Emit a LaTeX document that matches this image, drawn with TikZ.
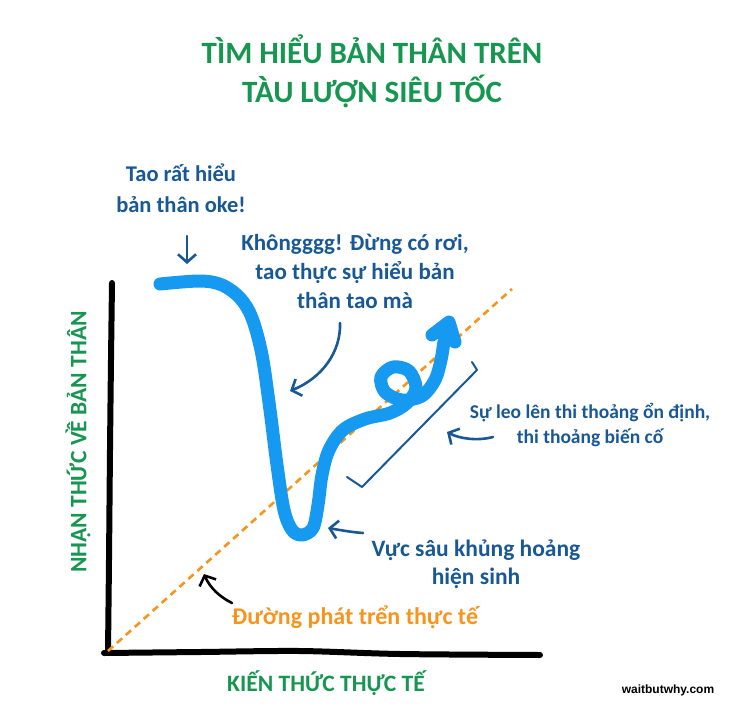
\documentclass[tikz,border=0pt]{standalone}
\usepackage{fontspec}
\setmainfont{Carlito}
\newfontfamily\wbwfont{Liberation Sans}
\usetikzlibrary{arrows.meta}
\definecolor{ttlgreen}{RGB}{22,150,80}
\definecolor{annblue}{RGB}{24,88,150}
\definecolor{curveblue}{RGB}{22,153,240}
\definecolor{devorange}{RGB}{247,148,29}
\begin{document}
\begin{tikzpicture}[x=1pt,y=-1pt,
  ann/.style={text=annblue, align=center, inner sep=0pt},
  greenlbl/.style={font=\bfseries\fontsize{23.5}{26}\selectfont, text=ttlgreen, inner sep=0pt},
  annarrow/.style={draw=annblue, line width=2.6pt, line cap=round, -{Straight Barb[length=8pt,width=18pt]}},
  blackarrow/.style={draw=black, line width=2.6pt, line cap=round, -{Straight Barb[length=8pt,width=18pt]}},
  axisline/.style={draw=black, line width=6pt, line cap=round, line join=round},
  roller/.style={draw=curveblue, line width=13pt, line cap=round, line join=round},
  devline/.style={draw=devorange, line width=2.6pt, dash pattern=on 7pt off 5pt}
]
\useasboundingbox[fill=white] (0,0) rectangle (752,720);

% title
\node[font=\bfseries\fontsize{31}{39}\selectfont, text=ttlgreen, align=center, inner sep=0pt] (title) at (372,71) {TÌM HIỂU BẢN THÂN TRÊN\\TÀU LƯỢN SIÊU TỐC};

% axes
\draw[axisline] plot[smooth, tension=0.5] coordinates {(112,283) (111,360) (110,450) (109,560) (108,652)};
\draw[axisline] plot[smooth, tension=0.5] coordinates {(104,653) (200,652) (300,651) (400,654) (540,655)};
\node[greenlbl] (xlabel) at (326,683) {KIẾN THỨC THỰC TẾ};
\node[greenlbl, rotate=90] (ylabel) at (78,442) {NHẬN THỨC VỀ BẢN THÂN};

% actual development line
\coordinate (o0) at (108,651);
\coordinate (o1) at (512,289);
\draw[devline] (o0) -- (o1);

% roller coaster curve
\draw[roller] plot[smooth, tension=0.55] coordinates {(160,284) (200,281) (222,285) (240,298) (252,318) (262,355) (270,410) (277,465) (284,510) (292,530) (302,535) (313,528) (318,505) (322,475) (329,450) (343,430) (365,419) (390,413) (407,403) (416,388) (409,371) (393,367) (381,377) (385,392) (402,400) (422,396) (435,380) (441,360) (444,342) (447,330)};
\draw[roller] (432,335) -- (449,322) -- (455,342);

% annotations
\node[ann, font=\bfseries\fontsize{22.5}{31}\selectfont] (tao) at (181,188) {Tao rất hiểu\\bản thân oke!};
\coordinate (taoA) at (187,236);
\coordinate (taoB) at (187,264);
\draw[annarrow] (taoA) -- (taoB);

\node[ann, font=\bfseries\fontsize{23}{29}\selectfont] (khong) at (355,271) {Khôngggg! Đừng có rơi,\\tao thực sự hiểu bản\\thân tao mà};
\coordinate (kA) at (340,323);
\coordinate (kB) at (290,391);
\draw[annarrow] (kA) .. controls (341,352) and (322,378) .. (kB);

\node[ann, font=\bfseries\fontsize{19.5}{25}\selectfont] (suleo) at (590,425) {Sự leo lên thi thoảng ổn định,\\thi thoảng biến cố};
\coordinate (sA) at (493,437);
\coordinate (sB) at (447,432);
\draw[annarrow] (sA) .. controls (478,441) and (460,439) .. (sB);
\coordinate (b1) at (472,362);
\coordinate (b2) at (477,370);
\coordinate (b3) at (362,487);
\coordinate (b4) at (347,477);
\draw[annblue, line width=2pt, line cap=round, line join=round] (b1) -- (b2) -- (b3) -- (b4);

\node[ann, font=\bfseries\fontsize{23.5}{28}\selectfont] (vuc) at (476,564) {Vực sâu khủng hoảng\\hiện sinh};
\coordinate (vA) at (363,533);
\coordinate (vB) at (328,528);
\draw[annarrow] (vA) .. controls (350,532) and (340,530) .. (vB);

\node[font=\bfseries\fontsize{24}{26}\selectfont, text=devorange, inner sep=0pt] (duong) at (355,617) {Đường phát trển thực tế};
\coordinate (dA) at (232,603);
\coordinate (dB) at (204,574);
\draw[blackarrow] (dA) .. controls (220,597) and (210,588) .. (dB);

\node[font=\wbwfont\bfseries\fontsize{12}{14}\selectfont, inner sep=0pt] (wbw) at (668,690) {waitbutwhy.com};
\end{tikzpicture}
\end{document}
